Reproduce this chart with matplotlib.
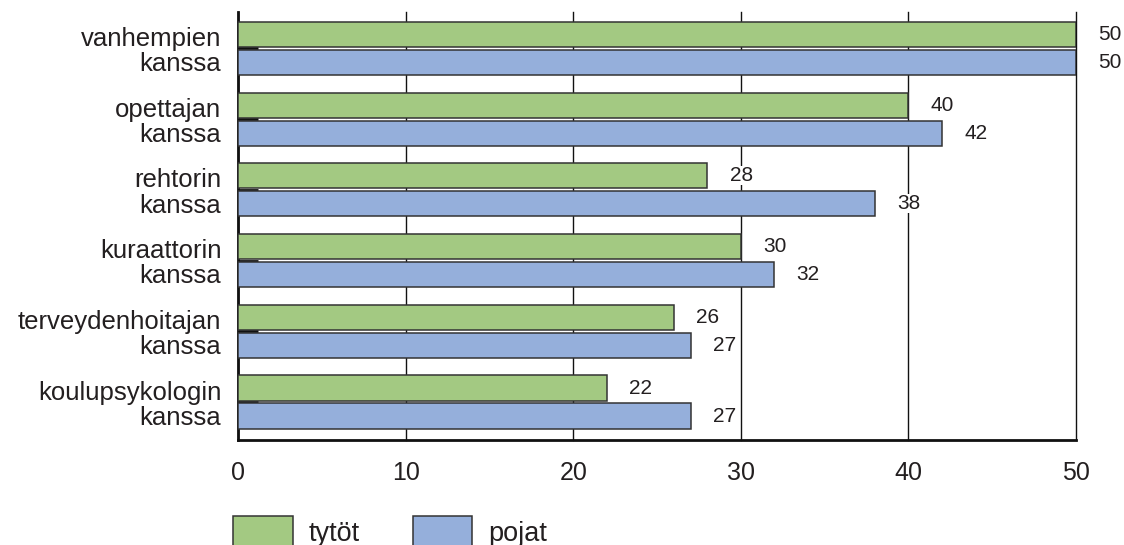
import numpy as np
import matplotlib
matplotlib.use('Agg')
import matplotlib.pyplot as plt

plt.rcParams['font.family'] = ['Liberation Sans', 'DejaVu Sans']

# Data
categories = ['vanhempien\nkanssa', 'opettajan\nkanssa', 'rehtorin\nkanssa',
              'kuraattorin\nkanssa', 'terveydenhoitajan\nkanssa', 'koulupsykologin\nkanssa']
tytot = [50, 40, 28, 30, 26, 22]
pojat = [50, 42, 38, 32, 27, 27]
xticks = [0, 10, 20, 30, 40, 50]

green = '#A3C982'
blue = '#95AFDB'
edge = '#333333'
txt = '#231f20'

fig = plt.figure(figsize=(11.24, 5.45), dpi=100)
ax = fig.add_axes([238 / 1124, 1 - 440 / 545, (1076 - 238) / 1124, (440 - 12) / 545])

pos = np.arange(len(categories))
h = 0.355
off = 0.198

ax.barh(pos - off, tytot, height=h, color=green, edgecolor=edge, linewidth=1.1,
        label='tytöt', zorder=3)
ax.barh(pos + off, pojat, height=h, color=blue, edgecolor=edge, linewidth=1.1,
        label='pojat', zorder=3)

# value labels
for y, v in zip(pos - off, tytot):
    ax.annotate(str(v), (v, y), xytext=(16, 0), textcoords='offset points',
                ha='left', va='center', fontsize=15, color=txt, zorder=4,
                bbox=dict(facecolor='white', edgecolor='none', pad=0))
for y, v in zip(pos + off, pojat):
    ax.annotate(str(v), (v, y), xytext=(16, 0), textcoords='offset points',
                ha='left', va='center', fontsize=15, color=txt, zorder=4,
                bbox=dict(facecolor='white', edgecolor='none', pad=0))

ax.set_xlim(0, 50)
ax.set_ylim(5.537, -0.516)

ax.set_xticks(xticks)
ax.set_xticklabels([str(t) for t in xticks], fontsize=18, color=txt)
ax.tick_params(axis='x', length=0, pad=15)

ax.set_yticks(pos)
ax.set_yticklabels(categories, fontsize=18.5, color=txt, linespacing=1.07)
ax.tick_params(axis='y', direction='in', length=14.4, width=2, color='#111111', pad=12)

ax.grid(axis='x', color='#111111', linewidth=1.0, zorder=0)
ax.set_axisbelow(True)
for gl in ax.get_xgridlines():
    gl.set_clip_on(False)

for s in ['top', 'right']:
    ax.spines[s].set_visible(False)
for s in ['left', 'bottom']:
    ax.spines[s].set_linewidth(2)
    ax.spines[s].set_color('#111111')

fig.legend(loc='upper left', bbox_to_anchor=(233 / 1124, 1 - 516 / 545), ncol=2,
           frameon=False, fontsize=19.5, borderpad=0, borderaxespad=0,
           handlelength=2.2, handleheight=1.4, handletextpad=0.6,
           columnspacing=1.95, labelcolor=txt)

fig.savefig('out.png', dpi=100)
